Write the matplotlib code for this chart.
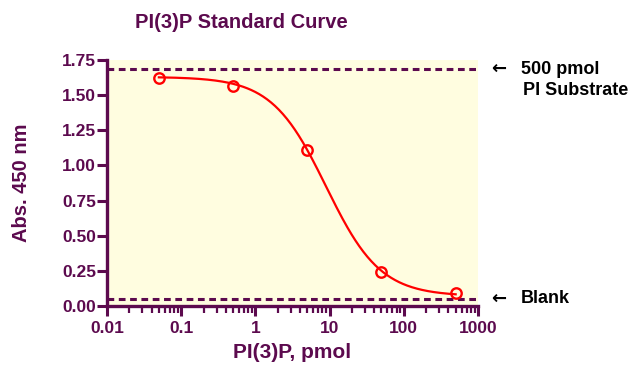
import numpy as np
import matplotlib
matplotlib.use("Agg")
import matplotlib.pyplot as plt
from matplotlib.transforms import blended_transform_factory
from matplotlib.ticker import LogLocator, FixedLocator, NullFormatter

# ---- data ----
pi3p_pmol = [0.05, 0.5, 5, 50, 500]
absorbance = [1.625, 1.565, 1.11, 0.245, 0.09]
substrate_level = 1.685   # 500 pmol PI substrate
blank_level = 0.05        # blank
# 4-parameter logistic fit parameters (estimated from the drawn curve)
fit_top, fit_bottom, fit_ec50, fit_hill = 1.63, 0.07, 8.97, 1.185
x_ticks = [0.01, 0.1, 1, 10, 100, 1000]
x_ticklabels = ["0.01", "0.1", "1", "10", "100", "1000"]
y_ticks = [0.0, 0.25, 0.5, 0.75, 1.0, 1.25, 1.5, 1.75]
y_ticklabels = ["0.00", "0.25", "0.50", "0.75", "1.00", "1.25", "1.50", "1.75"]

PURPLE = "#5c0a4e"
RED = "#ff0000"
BG = "#fffde0"
plt.rcParams['font.family'] = ['Liberation Sans', 'DejaVu Sans']
plt.rcParams['font.weight'] = 'bold'

fig = plt.figure(figsize=(6.31, 3.66), dpi=100)
ax = fig.add_axes([107/631, 1-306/366, 371/631, 246/366])
ax.set_facecolor(BG)

ax.set_xscale('log')
ax.set_xlim(0.01, 1000)
ax.set_ylim(0, 1.75)

xc = np.logspace(np.log10(pi3p_pmol[0]), np.log10(pi3p_pmol[-1]), 300)
yc = fit_bottom + (fit_top - fit_bottom) / (1 + (xc / fit_ec50) ** fit_hill)
ax.plot(xc, yc, color=RED, lw=1.6, zorder=3)
ax.plot(pi3p_pmol, absorbance, 'o', mfc='none', mec=RED, mew=1.7, ms=7.5, zorder=4, clip_on=False)

for lvl in (substrate_level, blank_level):
    ax.axhline(lvl, color=PURPLE, lw=2.2, ls=(0, (2.2, 1.5)), zorder=2)

for s in ('top', 'right'):
    ax.spines[s].set_visible(False)
for s in ('left', 'bottom'):
    ax.spines[s].set_color(PURPLE)
    ax.spines[s].set_linewidth(2.4)

ax.xaxis.set_major_locator(FixedLocator(x_ticks))
ax.set_xticklabels(x_ticklabels)
ax.xaxis.set_minor_locator(LogLocator(base=10, subs=np.arange(2, 10)))
ax.xaxis.set_minor_formatter(NullFormatter())
ax.set_yticks(y_ticks)
ax.set_yticklabels(y_ticklabels)
ax.tick_params(axis='both', which='major', direction='out', length=7, width=2.2,
               color=PURPLE, labelcolor=PURPLE, labelsize=12.5)
ax.tick_params(axis='x', which='major', pad=4)
ax.tick_params(axis='y', which='major', pad=1)
ax.tick_params(axis='x', which='minor', direction='out', length=5, width=1.6, color=PURPLE)
for lab in ax.get_xticklabels() + ax.get_yticklabels():
    lab.set_fontweight('bold')

ax.set_xlabel("PI(3)P, pmol", color=PURPLE, fontsize=15, fontweight='bold', labelpad=5)
ax.set_ylabel("Abs. 450 nm", color=PURPLE, fontsize=14.5, fontweight='bold', labelpad=22)
fig.text(241/631, 1-22/366, "PI(3)P Standard Curve", color=PURPLE, fontsize=14.5,
         fontweight='bold', ha='center', va='center')

tr = blended_transform_factory(ax.transAxes, ax.transData)
ax.text((491-107)/371, substrate_level, "\u2190", transform=tr, fontsize=13,
        color='black', va='center', ha='left', family=['DejaVu Sans'])
ax.text((521-107)/371, substrate_level, "500 pmol", transform=tr, fontsize=13,
        fontweight='bold', color='black', va='center', ha='left')
ax.text((523-107)/371, substrate_level - 0.15, "PI Substrate", transform=tr, fontsize=13,
        fontweight='bold', color='black', va='center', ha='left')
ax.text((491-107)/371, blank_level, "\u2190", transform=tr, fontsize=13,
        color='black', va='center', ha='left', family=['DejaVu Sans'])
ax.text((521-107)/371, blank_level, "Blank", transform=tr, fontsize=13,
        fontweight='bold', color='black', va='center', ha='left')

fig.savefig("out.png", dpi=100)
